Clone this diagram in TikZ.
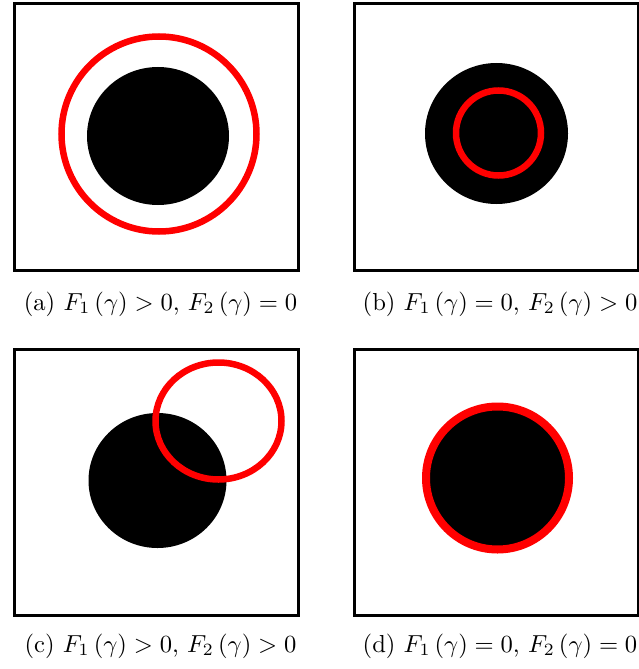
\documentclass[tikz,border=0pt]{standalone}
\begin{document}
\begin{tikzpicture}[x=1pt,y=-1pt,
  frame/.style={draw=black,line width=3pt},
  blob/.style={fill=black},
  ring/.style={draw=red,line width=6.5pt},
  captext/.style={scale=2.46,anchor=base,inner sep=0pt}]
\useasboundingbox (0,0) rectangle (639,669);
% (a)
\draw[frame] (14,4) rectangle (298,270);
\fill[blob] (158,136) circle[x radius=71, y radius=69];
\draw[ring] (159,134) circle[radius=97.5];
\node[captext] (ca) at (160.5,310) {(a) $F_1\left(\gamma\right)>0$, $F_2\left(\gamma\right)=0$};
% (b)
\draw[frame] (354,4) rectangle (638,270);
\fill[blob] (496.5,133.5) circle[x radius=71.5, y radius=70.5];
\draw[ring] (498.5,133) circle[radius=42.5];
\node[captext] (cb) at (500,310) {(b) $F_1\left(\gamma\right)=0$, $F_2\left(\gamma\right)>0$};
% (c)
\draw[frame] (14,349) rectangle (298,615);
\fill[blob] (157.5,480.5) circle[x radius=69, y radius=67.5];
\draw[ring] (218.5,421) circle[x radius=63, y radius=58.5];
\node[captext] (cc) at (160.5,652) {(c) $F_1\left(\gamma\right)>0$, $F_2\left(\gamma\right)>0$};
% (d)
\draw[frame] (354,349) rectangle (638,615);
\fill[blob] (497.5,478) circle[radius=71.5];
\draw[draw=red,line width=8pt] (497.5,478) circle[radius=71.5];
\node[captext] (cd) at (500,652) {(d) $F_1\left(\gamma\right)=0$, $F_2\left(\gamma\right)=0$};
\end{tikzpicture}
\end{document}
